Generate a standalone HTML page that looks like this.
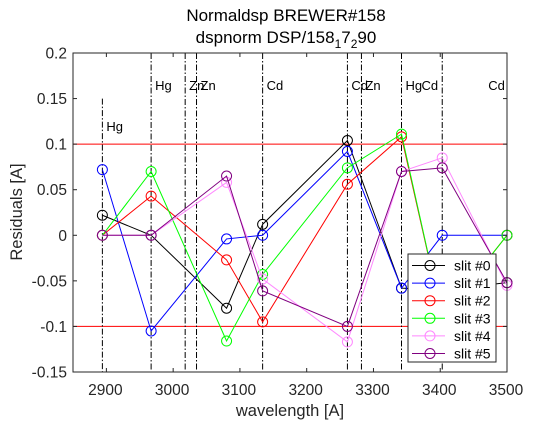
<!DOCTYPE html>
<html><head><meta charset="utf-8"><style>
body{margin:0;background:#fff;}
svg{font-family:"Liberation Sans",sans-serif;}
</style></head><body>
<svg id="chart" width="560" height="420" xmlns="http://www.w3.org/2000/svg">
<rect x="0" y="0" width="560" height="420" fill="#fff"/>
<text x="286" y="21" font-size="17" text-anchor="middle">Normaldsp BREWER#158</text>
<text x="286" y="43" font-size="17" text-anchor="middle">dspnorm DSP/158<tspan dy="5" font-size="12">1</tspan><tspan dy="-5">7</tspan><tspan dy="5" font-size="12">2</tspan><tspan dy="-5">90</tspan></text>
<text transform="translate(22,212) rotate(-90)" font-size="16.5" text-anchor="middle" fill="#262626">Residuals [A]</text>
<text x="290" y="416" font-size="16.5" text-anchor="middle" fill="#262626">wavelength [A]</text>
<g id="plot"></g>
</svg>
<script>
const wavelengths=[2894,2967,3080,3134,3261,3342,3403,3500];
const slit0=[0.022,0,-0.08,0.012,0.104,-0.058,-0.06,-0.052];
const slit1=[0.072,-0.105,-0.004,0,0.092,-0.058,0,0];
const slit2=[0,0.043,-0.027,-0.095,0.056,0.108,-0.09,0];
const slit3=[0,0.07,-0.116,-0.043,0.074,0.111,-0.09,0];
const slit4=[0,0,0.058,-0.048,-0.117,0.07,0.085,-0.055];
const slit5=[0,0,0.065,-0.061,-0.1,0.07,0.074,-0.052];
const seriesNames=["slit #0","slit #1","slit #2","slit #3","slit #4","slit #5"];
const lineWl=[2894,2967,3018,3035,3134,3261,3282,3342,3403];
const labelWl=[2894,2967,3018,3035,3134,3261,3282,3342,3366,3466];
const lineLabels=["Hg","Hg","Zn","Zn","Cd","Cd","Zn","Hg","Cd","Cd"];
const xTicks=[2900,3000,3100,3200,3300,3400,3500];
const yTicks=[0.2,0.15,0.1,0.05,0,-0.05,-0.1,-0.15];
const limits=[0.1,-0.1];

const L=73,R=507,T=53,B=372,X0=2850,X1=3500,Y0=-0.15,Y1=0.2;
const sx=v=>L+(v-X0)/(X1-X0)*(R-L);
const sy=v=>B-(v-Y0)/(Y1-Y0)*(B-T);
const NS="http://www.w3.org/2000/svg";
const g=document.getElementById('plot');
function mk(t,a,p){const e=document.createElementNS(NS,t);for(const k in a)e.setAttribute(k,a[k]);(p||g).appendChild(e);return e;}

let e=mk('rect',{x:L,y:T,width:R-L,height:B-T,fill:'#fff',stroke:'none'});



limits.forEach(v=>{const l=mk('line',{x1:L,x2:R,y1:sy(v),y2:sy(v),stroke:'#f00','stroke-width':1});

});

lineWl.forEach((w,i)=>{
 const top=i===0?sy(0.15):T;
 const l=mk('line',{x1:sx(w),x2:sx(w),y1:top,y2:B,stroke:'#000','stroke-width':1,'stroke-dasharray':'6,2,1.5,2'});
 
 
});
labelWl.forEach((w,i)=>{
 const t=mk('text',{x:sx(w)+4,y:i===0?sy(0.12)+5:sy(0.165)+5,'font-size':13});
 t.textContent=lineLabels[i];
 
 
});

const colors=['#000','#00f','#f00','#0f0','#f8f','#800080'];
[slit0,slit1,slit2,slit3,slit4,slit5].forEach((s,k)=>{
 const pl=mk('polyline',{points:s.map((v,i)=>sx(wavelengths[i])+','+sy(v)).join(' '),fill:'none',stroke:colors[k],'stroke-width':1});
 
 
 s.forEach((v,i)=>{const c=mk('circle',{cx:sx(wavelengths[i]),cy:sy(v),r:5,fill:'none',stroke:colors[k],'stroke-width':1});
 
 });
});

e=mk('rect',{x:L,y:T,width:R-L,height:B-T,fill:'none',stroke:'#262626','stroke-width':1});


xTicks.forEach(v=>{
 mk('line',{x1:sx(v),x2:sx(v),y1:B,y2:B-4,stroke:'#262626'});
 mk('line',{x1:sx(v),x2:sx(v),y1:T,y2:T+4,stroke:'#262626'});
 const t=mk('text',{x:sx(v)-1,y:B+23,'font-size':15.5,'text-anchor':'middle',fill:'#262626'});t.textContent=v;
 
 
});
yTicks.forEach(v=>{
 mk('line',{x1:L,x2:L+4,y1:sy(v),y2:sy(v),stroke:'#262626'});
 mk('line',{x1:R,x2:R-4,y1:sy(v),y2:sy(v),stroke:'#262626'});
 const t=mk('text',{x:L-6,y:sy(v)+5.5,'font-size':15.5,'text-anchor':'end',fill:'#262626'});t.textContent=String(v);
 
 
});

const lg=mk('g',{});


mk('rect',{x:408,y:254,width:88,height:108,fill:'#fff',stroke:'#262626'},lg);
seriesNames.forEach((n,k)=>{
 const y=265.5+k*17.6;
 const it=mk('g',{},lg);
 
 
 mk('line',{x1:412,x2:445,y1:y,y2:y,stroke:colors[k]},it);
 mk('circle',{cx:430,cy:y,r:5,fill:'none',stroke:colors[k]},it);
 const t=mk('text',{x:454,y:y+5,'font-size':14},it);t.textContent=n;
});
</script>
</body></html>
